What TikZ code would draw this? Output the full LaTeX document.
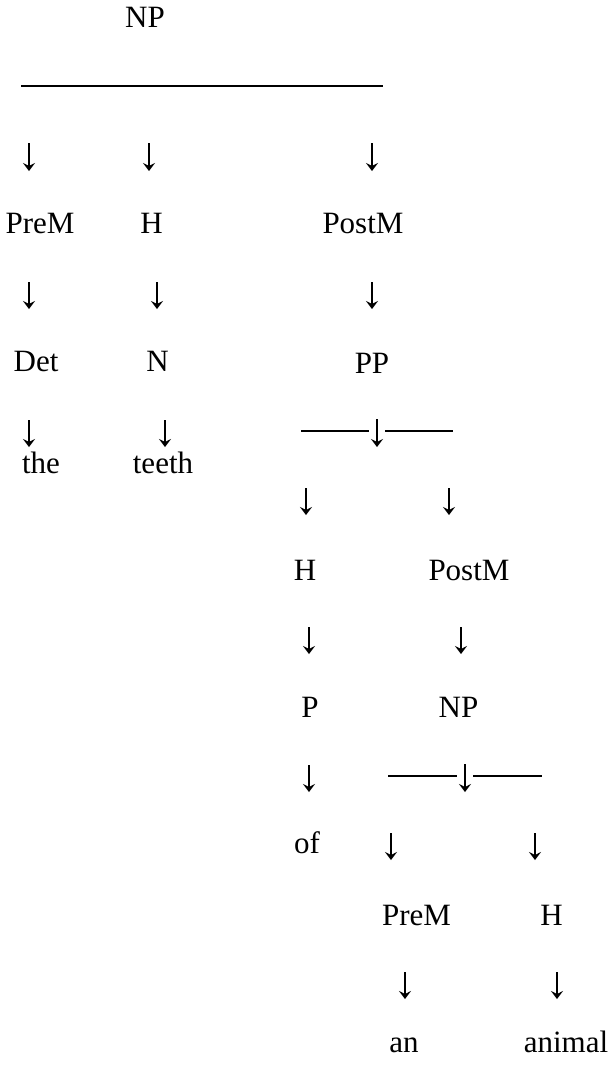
\documentclass[tikz,border=0pt]{standalone}
\usepackage{fontspec}
\setmainfont{Liberation Serif}
\usetikzlibrary{arrows.meta}
\begin{document}
\begin{tikzpicture}[x=1pt,y=-1pt,
  lbl/.style={inner sep=0pt,anchor=base,font=\fontsize{31}{37}\selectfont},
  darr/.style={line width=1.6pt,-{Stealth[length=8pt,width=12pt,inset=3pt]}},
  bar/.style={line width=2.4pt}]
\useasboundingbox (0,0) rectangle (611,1066);

% level 0
\node[lbl] (np0) at (145,27) {NP};
\coordinate (b0l) at (21,86);
\coordinate (b0r) at (383,86);
\draw[bar] (b0l) -- (b0r);

% level 1: PreM / H / PostM
\coordinate (a11) at (29,143);
\coordinate (a12) at (149,143);
\coordinate (a13) at (372,143);
\foreach \a in {a11,a12,a13} \draw[darr] (\a) -- ++(0,28);
\node[lbl] (prem1) at (40,233) {PreM};
\node[lbl] (h1) at (151.5,233) {H};
\node[lbl] (postm1) at (363,233) {PostM};

% level 2: Det / N / PP
\coordinate (a21) at (29,282);
\coordinate (a22) at (157,282);
\coordinate (a23) at (372,282);
\foreach \a in {a21,a22,a23} \draw[darr] (\a) -- ++(0,27);
\node[lbl] (det) at (36,371) {Det};
\node[lbl] (n) at (157.5,371) {N};
\node[lbl] (pp) at (372,373) {PP};

% words of the first branch, and the PP split
\coordinate (a31) at (29,420);
\coordinate (a32) at (165,420);
\foreach \a in {a31,a32} \draw[darr] (\a) -- ++(0,27);
\node[lbl] (the) at (41,473) {the};
\node[lbl] (teeth) at (163,473) {teeth};
\coordinate (bpl) at (301,431);
\coordinate (bpm1) at (369,431);
\coordinate (bpm2) at (385,431);
\coordinate (bpr) at (453,431);
\draw[bar] (bpl) -- (bpm1);
\draw[bar] (bpm2) -- (bpr);
\coordinate (apm) at (377,419);
\draw[darr] (apm) -- ++(0,28);

% inside PP: H / PostM
\coordinate (a41) at (306,488);
\coordinate (a42) at (449,488);
\foreach \a in {a41,a42} \draw[darr] (\a) -- ++(0,27);
\node[lbl] (h2) at (305,580) {H};
\node[lbl] (postm2) at (469,580) {PostM};

\coordinate (a51) at (309,627);
\coordinate (a52) at (461,627);
\foreach \a in {a51,a52} \draw[darr] (\a) -- ++(0,27);
\node[lbl] (p) at (310,717) {P};
\node[lbl] (np2) at (458.5,717) {NP};

% P -> of, and the inner NP split
\coordinate (a61) at (309,765);
\draw[darr] (a61) -- ++(0,27);
\coordinate (bnl) at (388,776);
\coordinate (bnm1) at (457,776);
\coordinate (bnm2) at (473,776);
\coordinate (bnr) at (542,776);
\draw[bar] (bnl) -- (bnm1);
\draw[bar] (bnm2) -- (bnr);
\coordinate (anm) at (465,764);
\draw[darr] (anm) -- ++(0,28);
\node[lbl] (of) at (307,853) {of};

% inner NP: PreM / H
\coordinate (a71) at (391,833);
\coordinate (a72) at (535,833);
\foreach \a in {a71,a72} \draw[darr] (\a) -- ++(0,27);
\node[lbl] (prem3) at (416.5,925) {PreM};
\node[lbl] (h3) at (551.5,925) {H};

\coordinate (a81) at (405,972);
\coordinate (a82) at (557,972);
\foreach \a in {a81,a82} \draw[darr] (\a) -- ++(0,27);
\node[lbl] (an) at (404,1052) {an};
\node[lbl] (animal) at (566,1052) {animal};
\end{tikzpicture}
\end{document}
